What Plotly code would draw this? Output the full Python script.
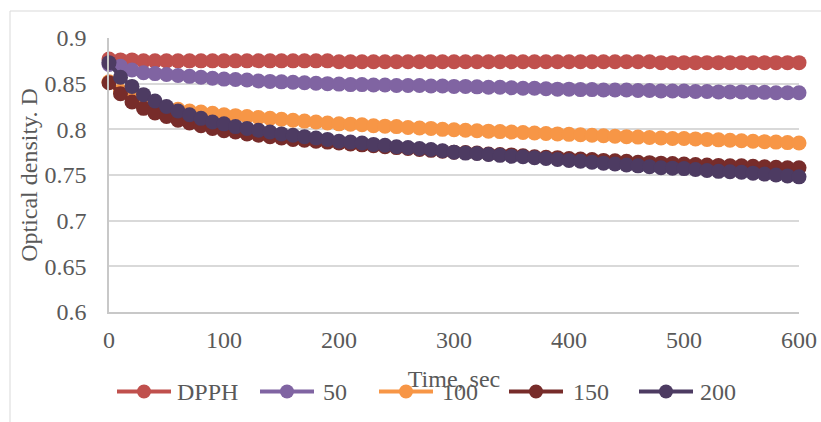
import plotly.graph_objects as go

# ---- data ----
time_sec = list(range(0, 601, 10))

dpph = [0.877, 0.876, 0.876, 0.875, 0.875, 0.875, 0.875, 0.875, 0.875, 0.875,
        0.875, 0.875, 0.875, 0.875, 0.875, 0.875, 0.875, 0.875, 0.875, 0.875,
        0.874, 0.874, 0.874, 0.874, 0.874, 0.874, 0.874, 0.874, 0.874, 0.874,
        0.874, 0.874, 0.874, 0.874, 0.874, 0.874, 0.874, 0.874, 0.874, 0.874,
        0.874, 0.874, 0.874, 0.874, 0.874, 0.874, 0.874, 0.874, 0.873, 0.873,
        0.873, 0.873, 0.873, 0.873, 0.873, 0.873, 0.873, 0.873, 0.873, 0.873, 0.873]

c50 = [0.871, 0.869, 0.865, 0.862, 0.861, 0.860, 0.859, 0.858, 0.857, 0.856, 0.855,
       0.8545, 0.854, 0.853, 0.8525, 0.852, 0.8515, 0.851, 0.8505, 0.850, 0.8495,
       0.849, 0.849, 0.8485, 0.8485, 0.848, 0.848, 0.848, 0.8475, 0.8475, 0.847,
       0.847, 0.8465, 0.846, 0.846, 0.8455, 0.845, 0.845, 0.8445, 0.844, 0.844,
       0.8435, 0.8435, 0.843, 0.843, 0.843, 0.8425, 0.8425, 0.842, 0.842, 0.842,
       0.8415, 0.8415, 0.841, 0.841, 0.841, 0.8405, 0.8405, 0.840, 0.840, 0.840]

c100 = [0.852, 0.842, 0.835, 0.830, 0.827, 0.824, 0.822, 0.820, 0.819, 0.8175, 0.816,
        0.815, 0.814, 0.813, 0.812, 0.811, 0.810, 0.809, 0.808, 0.807, 0.806,
        0.8055, 0.805, 0.804, 0.8035, 0.803, 0.802, 0.8015, 0.801, 0.800, 0.7995,
        0.799, 0.7985, 0.798, 0.7975, 0.797, 0.7965, 0.796, 0.7955, 0.795, 0.7945,
        0.794, 0.7935, 0.793, 0.7925, 0.792, 0.7915, 0.791, 0.7905, 0.790, 0.790,
        0.7895, 0.789, 0.7885, 0.788, 0.7875, 0.787, 0.7865, 0.786, 0.7855, 0.785]

c150 = [0.851, 0.839, 0.830, 0.823, 0.818, 0.814, 0.810, 0.807, 0.804, 0.801, 0.7985,
        0.797, 0.795, 0.7935, 0.792, 0.7905, 0.789, 0.788, 0.787, 0.786, 0.785,
        0.784, 0.783, 0.782, 0.781, 0.780, 0.779, 0.778, 0.777, 0.776, 0.775,
        0.7745, 0.774, 0.773, 0.7725, 0.772, 0.771, 0.770, 0.7695, 0.769, 0.768,
        0.7675, 0.767, 0.766, 0.7655, 0.765, 0.764, 0.7635, 0.763, 0.7625, 0.762,
        0.7615, 0.761, 0.7605, 0.760, 0.760, 0.7595, 0.759, 0.7585, 0.758, 0.758]

c200 = [0.873, 0.857, 0.847, 0.838, 0.831, 0.825, 0.820, 0.816, 0.812, 0.808, 0.806,
        0.803, 0.801, 0.799, 0.797, 0.795, 0.7935, 0.792, 0.7905, 0.789, 0.787,
        0.786, 0.785, 0.7835, 0.7825, 0.781, 0.780, 0.779, 0.778, 0.7765, 0.775,
        0.774, 0.7735, 0.7725, 0.7715, 0.7705, 0.770, 0.769, 0.768, 0.767, 0.766,
        0.765, 0.764, 0.763, 0.762, 0.761, 0.760, 0.759, 0.758, 0.7575, 0.757,
        0.756, 0.755, 0.754, 0.7535, 0.753, 0.752, 0.751, 0.750, 0.749, 0.748]

series_names = ["DPPH", "50", "100", "150", "200"]
series_values = [dpph, c50, c100, c150, c200]
series_colors = ["#c0504d", "#8064a2", "#f79646", "#772c2a", "#4d3b62"]

y_ticks = [0.6, 0.65, 0.7, 0.75, 0.8, 0.85, 0.9]
x_ticks = [0, 100, 200, 300, 400, 500, 600]

# ---- layout geometry (pixels) ----
W, H = 821, 422
L, R, T, B = 109, 799, 38, 312
FONT = "Liberation Serif"
TXT = "#595959"
FS = 24


def px_x(px):
    return (px - L) / (R - L)


def px_y(py):
    return (B - py) / (B - T)


fig = go.Figure()
for name, vals, col in zip(series_names, series_values, series_colors):
    fig.add_trace(go.Scatter(
        x=time_sec, y=vals, name=name, mode="lines+markers",
        line=dict(color=col, width=4),
        marker=dict(color=col, size=15, line=dict(width=0)),
        cliponaxis=False, showlegend=False,
    ))

shapes = []
annotations = []

# outer chart border
shapes.append(dict(type="rect", xref="paper", yref="paper",
                   x0=px_x(10), x1=px_x(840), y0=px_y(440), y1=px_y(11),
                   line=dict(color="#d9d9d9", width=1), layer="below"))

# custom legend (Excel-like long symbols)
leg_y = 391.5
sym_starts = [117, 260, 379, 509, 639]
txt_starts = [175, 321, 440, 571, 698]
for name, col, s0, t0 in zip(series_names, series_colors, sym_starts, txt_starts):
    shapes.append(dict(type="line", xref="paper", yref="paper",
                       x0=px_x(s0), x1=px_x(s0 + 54), y0=px_y(leg_y), y1=px_y(leg_y),
                       line=dict(color=col, width=4)))
    cx = s0 + 27
    shapes.append(dict(type="circle", xref="paper", yref="paper",
                       x0=px_x(cx - 7), x1=px_x(cx + 7),
                       y0=px_y(leg_y + 7), y1=px_y(leg_y - 7),
                       fillcolor=col, line=dict(width=0)))
    annotations.append(dict(xref="paper", yref="paper", x=px_x(t0), y=px_y(leg_y),
                            xanchor="left", yanchor="middle", text=name, showarrow=False,
                            font=dict(family=FONT, size=FS, color=TXT)))

fig.update_layout(
    width=W, height=H,
    margin=dict(l=L, r=W - R, t=T, b=H - B, pad=0),
    paper_bgcolor="white", plot_bgcolor="white",
    font=dict(family=FONT, size=FS, color=TXT),
    showlegend=False,
    shapes=shapes,
    annotations=annotations,
    xaxis=dict(
        range=[0, 600], tickmode="array", tickvals=x_ticks,
        ticktext=[str(v) for v in x_ticks],
        showgrid=False, zeroline=False, automargin=False,
        showline=True, linecolor="#c8c8c8", linewidth=1.5,
        ticks="", ticklabelstandoff=5,
        tickfont=dict(family=FONT, size=FS, color=TXT),
        title=dict(text="Time, sec", standoff=19,
                   font=dict(family=FONT, size=FS, color=TXT)),
    ),
    yaxis=dict(
        range=[0.6, 0.9], tickmode="array", tickvals=y_ticks,
        ticktext=[f"{v:g}" for v in y_ticks],
        showgrid=True, gridcolor="#d9d9d9", gridwidth=1.5,
        zeroline=False, automargin=False,
        showline=True, linecolor="#c8c8c8", linewidth=1.5,
        ticks="", ticklabelstandoff=16,
        tickfont=dict(family=FONT, size=FS, color=TXT),
        title=dict(text="Optical density. D", standoff=0,
                   font=dict(family=FONT, size=FS, color=TXT)),
    ),
)

fig.write_html("out.html", config={"displayModeBar": False},
               post_script="document.body.style.margin='0';")
